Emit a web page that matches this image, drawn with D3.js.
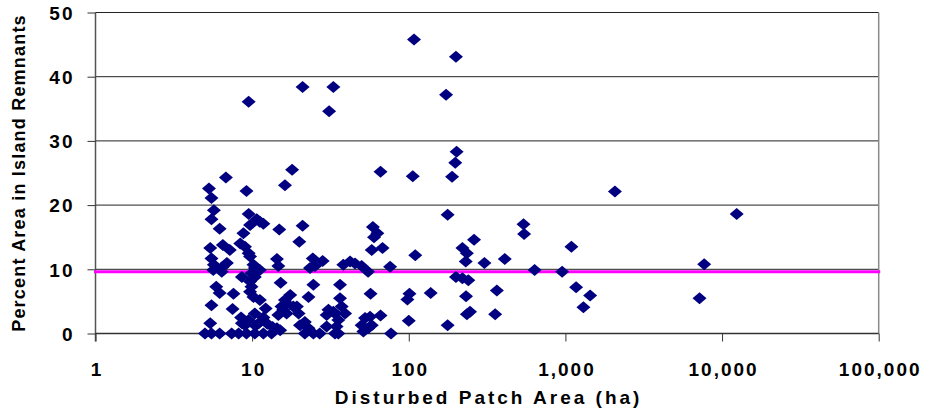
<!DOCTYPE html>
<html>
<head>
<meta charset="utf-8">
<script src="https://cdn.jsdelivr.net/npm/d3@7/dist/d3.min.js"></script>
<style>
  html, body { margin: 0; padding: 0; background: #fff; }
  svg { display: block; }
  text { font-family: "Liberation Sans", Arial, Helvetica, sans-serif; font-weight: bold; fill: #000; }
</style>
</head>
<body>
<svg id="chart" width="927" height="416"></svg>
<script>
// Disturbed patch area (ha) and percent of that area left in island remnants
const patchArea = [
  108, 200, 21, 33, 9.5, 31, 173, 202, 198, 66, 106, 189, 6.8, 18, 16.2, 5.3, 9.2, 2070, 12400,
  5.5, 5.7, 5.5, 6.2, 5.4, 5.5, 5.7, 5.65, 6.4, 5.9, 6.2, 5.5, 5.4, 5.0, 5.5, 6.2,
  6.5, 7.2, 6.9, 6.5, 7.6, 7.5, 7.4, 8.2, 8.4, 9.0, 8.8, 8.6, 8.6,
  9.5, 9.7, 11.2, 11.8, 10.7, 9.5, 9.7, 10.2, 10.4, 11.2, 9.9, 10.4, 9.7, 9.9, 9.7, 10.2, 11.2,
  10.4, 9.5, 8.5, 11.0, 11.8, 12.5, 10.5, 9.0, 9.2, 10.4, 11.8, 13.3, 12.2, 13.5,
  14.9, 21, 20, 14.4, 14.7, 15.2, 17.5, 16.6, 19.3, 15.8, 16.2, 15.4, 14.7, 18.3, 16.6, 14.4, 15.1,
  19.8, 21.7, 20.2, 22.9,
  24.4, 28.2, 23.4, 25.2, 24.6, 22.9, 36.4, 36.4, 33.8, 39.2, 29.9, 30.7, 37.3, 33.0, 35.5, 34.6,
  38.2, 42.2, 45.4, 21.7, 24.6, 27.0, 33.8, 35.5, 29.9,
  50, 55, 59, 63, 60, 58, 68, 76, 57, 52.6, 58, 50, 56.6, 51.3, 55, 66, 77,
  110, 101, 98, 100, 138, 177, 177, 220, 235, 231, 261, 304, 200, 240, 220, 232, 246, 235,
  356, 365, 410, 540, 545, 636, 1092, 953, 1170, 1438, 1303, 7690, 7180
];
const islandPct = [
  45.8, 43.1, 38.4, 38.4, 36.1, 34.6, 37.2, 28.3, 26.6, 25.2, 24.5, 24.4, 24.3, 25.5, 23.1, 22.6, 22.2, 22.1, 18.6,
  21.1, 19.2, 17.8, 16.3, 13.3, 11.7, 10.7, 9.9, 9.6, 7.3, 6.3, 4.4, 1.6, 0, 0, 0,
  13.8, 13.0, 11.0, 10.4, 6.2, 3.8, 0, 0, 14.0, 13.5, 15.6, 8.8, 1.6,
  18.6, 16.9, 17.4, 17.1, 17.8, 12.5, 12.0, 10.7, 10.2, 9.9, 9.4, 8.8, 8.1, 7.3, 6.5, 5.7, 5.2,
  3.1, 2.1, 2.5, 1.6, 2.5, 1.5, 1.2, 1.3, 0, 0, 0, 0, 3.9, 1.0,
  16.2, 16.8, 14.3, 11.6, 10.5, 7.9, 6.0, 4.7, 4.2, 3.7, 5.2, 4.2, 2.9, 4.2, 3.1, 0.8, 0.5,
  3.1, 1.8, 1.3, 0.8,
  11.7, 11.3, 10.2, 10.5, 7.6, 5.7, 7.6, 5.5, 3.1, 3.1, 2.9, 3.7, 4.2, 3.4, 2.1, 1.1,
  10.7, 11.2, 10.9, 0, 0, 0, 0, 0, 1.1,
  10.5, 9.6, 16.6, 15.6, 15.0, 13.0, 13.3, 10.4, 6.2, 2.4, 1.3, 1.3, 2.6, 0.3, 0.8, 2.8, 0,
  12.2, 6.2, 5.3, 2.0, 6.3, 18.5, 1.3, 13.3, 12.5, 11.2, 14.6, 11.0, 8.8, 8.3, 8.6, 5.8, 3.4, 3.0,
  3.0, 6.7, 11.6, 17.0, 15.5, 9.9, 13.5, 9.6, 7.2, 5.9, 4.1, 10.8, 5.5
];
// Reference level drawn across the full x range
const referencePct = 9.6;
const xTicks = [1, 10, 100, 1000, 10000, 100000];
const yTicks = [0, 10, 20, 30, 40, 50];
const xTitle = "Disturbed Patch Area (ha)";
const yTitle = "Percent Area in Island Remnants";

const points = patchArea.map((a, i) => ({ area: a, pct: islandPct[i] }));

const svg = d3.select("#chart");
const plotLeft = 95.5, plotRight = 878.7, plotTop = 12.5, plotBottom = 333.5;

const x = d3.scaleLog().domain([1, 100000]).range([plotLeft, plotRight]);
const y = d3.scaleLinear().domain([0, 50]).range([plotBottom, plotTop]);

// horizontal gridlines
svg.append("g")
  .selectAll("line")
  .data(yTicks.filter(v => v > 0))
  .join("line")
  .attr("x1", plotLeft).attr("x2", plotRight)
  .attr("y1", d => y(d)).attr("y2", d => y(d))
  .attr("stroke", "#222").attr("stroke-width", 1);

// right edge of the plot area
svg.append("line")
  .attr("x1", plotRight).attr("x2", plotRight)
  .attr("y1", plotTop).attr("y2", plotBottom)
  .attr("stroke", "#8a8a8a").attr("stroke-width", 1.5);

// y axis
const yAxis = svg.append("g")
  .attr("transform", `translate(${plotLeft},0)`)
  .call(d3.axisLeft(y).tickValues(yTicks).tickSize(8).tickPadding(15).tickFormat(d3.format("d")));
yAxis.select(".domain").attr("stroke", "#555").attr("stroke-width", 1.5)
  .attr("d", `M0,${plotTop}V${plotBottom + 8}`);
yAxis.selectAll(".tick line").attr("stroke", "#333");
yAxis.selectAll(".tick text")
  .style("font-size", "19px").style("letter-spacing", "2px")
  .attr("dx", "2px").attr("dy", "0.36em");

// x axis
const xAxis = svg.append("g")
  .attr("transform", `translate(0,${plotBottom})`)
  .call(d3.axisBottom(x).tickValues(xTicks).tickSize(8).tickPadding(21).tickFormat(d3.format(",")));
xAxis.select(".domain").attr("stroke", "#333").attr("stroke-width", 1.5)
  .attr("d", `M${plotLeft},0H${plotRight}`);
xAxis.selectAll(".tick line").attr("stroke", "#333");
xAxis.selectAll(".tick text")
  .style("font-size", "19px").style("letter-spacing", "2px")
  .attr("dx", "1px");

// reference line
svg.append("line")
  .attr("x1", x(1)).attr("x2", x(100000))
  .attr("y1", y(referencePct)).attr("y2", y(referencePct))
  .attr("stroke", "#ff00ff").attr("stroke-width", 3)
  .attr("stroke-linecap", "square");

// diamonds
const diamond = "M0,-6L7,0L0,6L-7,0Z";
svg.append("g")
  .selectAll("path")
  .data(points)
  .join("path")
  .attr("d", diamond)
  .attr("transform", d => `translate(${x(d.area)},${y(d.pct)})`)
  .attr("fill", "#000080");

// axis titles
svg.append("text")
  .attr("x", (plotLeft + plotRight) / 2 + 1.5)
  .attr("y", 404)
  .attr("text-anchor", "middle")
  .style("font-size", "19px")
  .style("letter-spacing", "3px")
  .text(xTitle);

svg.append("text")
  .attr("transform", `translate(25,${(plotTop + plotBottom) / 2}) rotate(-90)`)
  .attr("text-anchor", "middle")
  .style("font-size", "18px")
  .style("letter-spacing", "1.2px")
  .text(yTitle);
</script>
</body>
</html>
